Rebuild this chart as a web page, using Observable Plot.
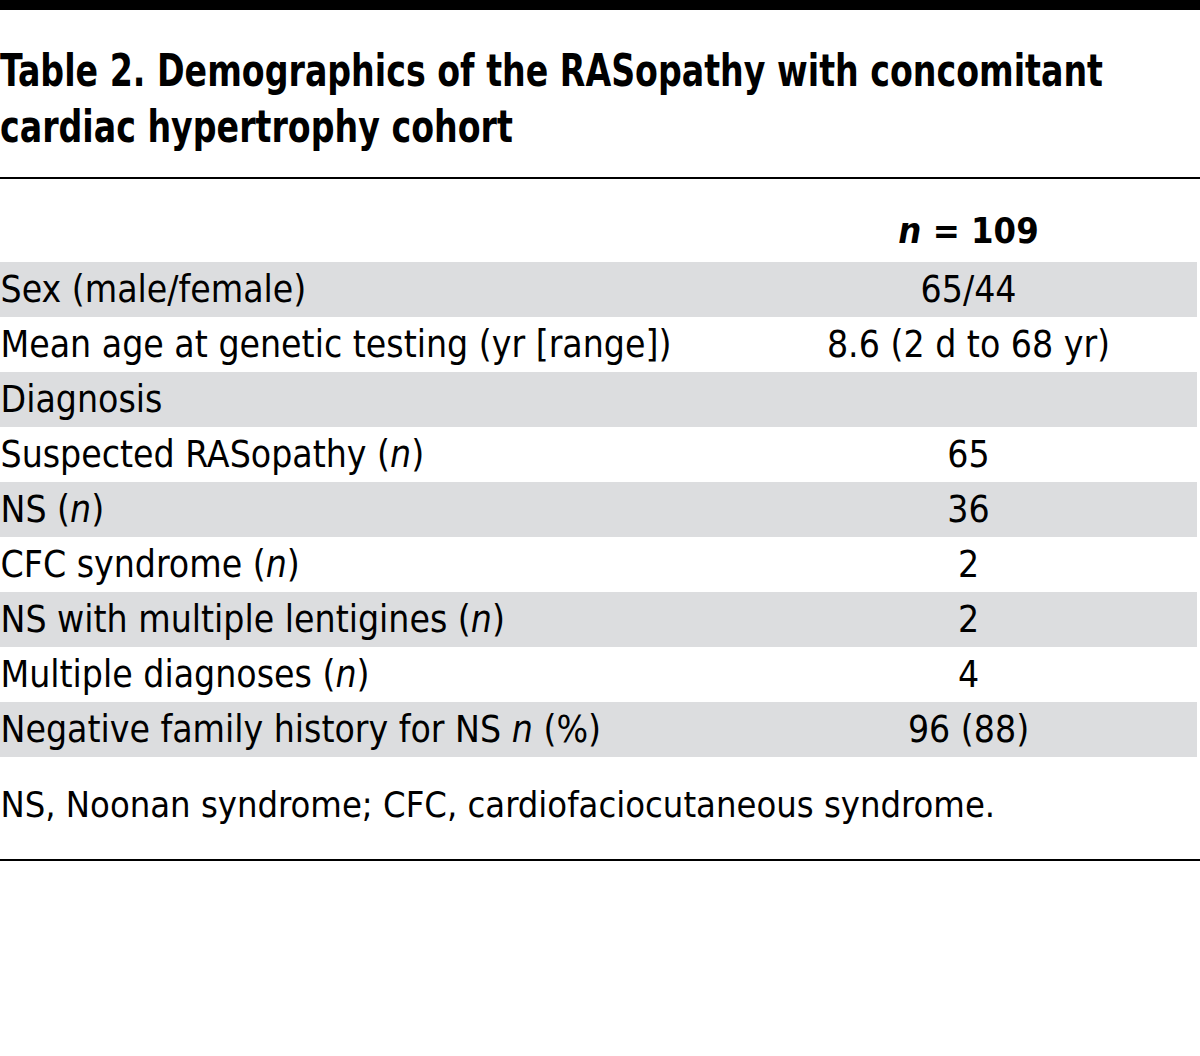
<!DOCTYPE html>
<html><head><meta charset="utf-8">
<script src="https://cdn.jsdelivr.net/npm/d3@7"></script>
<script src="https://cdn.jsdelivr.net/npm/@observablehq/plot@0.6"></script>
<style>
body{margin:0;background:#fff;font-family:"DejaVu Sans Condensed","DejaVu Sans",sans-serif;color:#000;}
#wrap{width:1200px;border-top:10px solid #000;}
#titlebox{margin:0;padding:33px 0 22px 0;border-bottom:2px solid #000;}
h1{margin:0;font-size:44px;line-height:56px;font-weight:bold;white-space:nowrap;display:inline-block;transform:scaleX(0.84);transform-origin:0 0;}
#chart svg{display:block;}
#bottom{border-top:2px solid #000;width:1200px;}
</style></head><body>
<div id="wrap"><div id="titlebox"><h1 id="title"></h1></div><div id="chart"></div><div id="bottom"></div></div>
<script>
const titleLines = ["Table 2. Demographics of the RASopathy with concomitant", "cardiac hypertrophy cohort"];
const columnHeader = "n = 109";
const rowLabels = [
  "Sex (male/female)",
  "Mean age at genetic testing (yr [range])",
  "Diagnosis",
  "Suspected RASopathy (n)",
  "NS (n)",
  "CFC syndrome (n)",
  "NS with multiple lentigines (n)",
  "Multiple diagnoses (n)",
  "Negative family history for NS n (%)"
];
const rowValues = ["65/44", "8.6 (2 d to 68 yr)", "", "65", "36", "2", "2", "4", "96 (88)"];
const footnote = "NS, Noonan syndrome; CFC, cardiofaciocutaneous syndrome.";

const rows = rowLabels.map((label, i) => ({label, value: rowValues[i], shaded: i % 2 === 0}));
const valueCol = 0.8087;
const font = "DejaVu Sans Condensed, DejaVu Sans, sans-serif";

document.getElementById("title").innerHTML = titleLines.join("<br>");

const chart = Plot.plot({
  width: 1200,
  height: 680,
  marginTop: 80,
  marginBottom: 100,
  marginLeft: 0,
  marginRight: 3,
  style: {fontFamily: font, background: "#fff", color: "#000"},
  x: {domain: [0, 1], axis: null},
  y: {domain: rowLabels, axis: null, padding: 0},
  marks: [
    Plot.barX(rows.filter(d => d.shaded), {y: "label", x1: 0, x2: 1, fill: "#dcdddf", inset: 0}),
    Plot.text(rows, {x: 0, y: "label", text: "label", textAnchor: "start", fontSize: 37, fill: "#000"}),
    Plot.text(rows, {x: valueCol, y: "label", text: "value", textAnchor: "middle", fontSize: 37, fill: "#000"}),
    Plot.text([columnHeader], {x: valueCol, frameAnchor: "top", lineAnchor: "middle", dy: -28, text: d => d, fontSize: 36, fontWeight: "bold", fill: "#000"}),
    Plot.text([footnote], {x: 0, frameAnchor: "bottom", lineAnchor: "middle", dy: 46, text: d => d, textAnchor: "start", fontSize: 36, fill: "#000"})
  ]
});

// italicise the standalone "n"
chart.querySelectorAll("text").forEach(t => {
  const s = t.textContent;
  if (!/(^|[^A-Za-z])n([^A-Za-z]|$)/.test(s)) return;
  const parts = s.split(/(?<![A-Za-z])n(?![A-Za-z])/);
  while (t.firstChild) t.removeChild(t.firstChild);
  parts.forEach((p, i) => {
    if (i > 0) {
      const it = document.createElementNS("http://www.w3.org/2000/svg", "tspan");
      it.setAttribute("font-style", "italic");
      it.textContent = "n";
      t.appendChild(it);
    }
    if (p) t.appendChild(document.createTextNode(p));
  });
});
document.getElementById("chart").appendChild(chart);
</script>
</body></html>
